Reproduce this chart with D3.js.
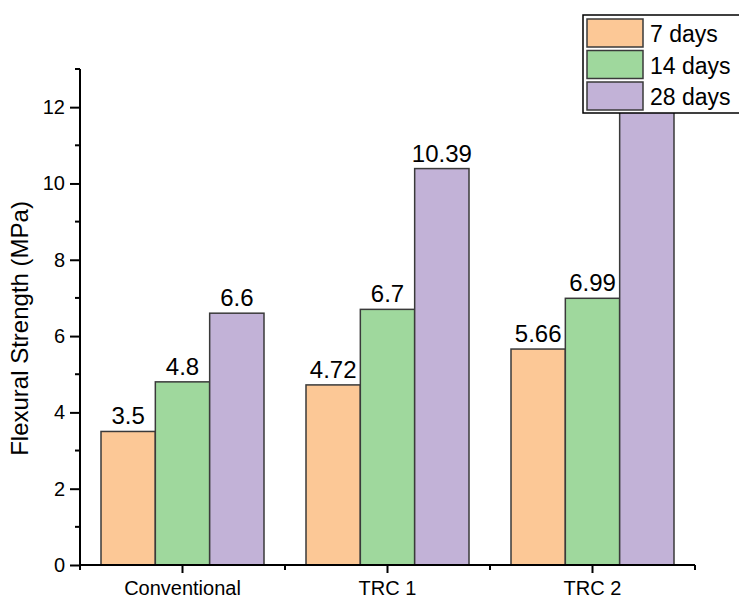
<!DOCTYPE html>
<html>
<head>
<meta charset="utf-8">
<script src="https://cdn.jsdelivr.net/npm/d3@7"></script>
<style>
  body { margin: 0; background: #fff; }
  text { font-family: "Liberation Sans", Arial, sans-serif; fill: #000; }
</style>
</head>
<body>
<div id="chart"></div>
<script>
// data
var categories = ["Conventional", "TRC 1", "TRC 2"];
var series = ["7 days", "14 days", "28 days"];
var days7 = [3.5, 4.72, 5.66];
var days14 = [4.8, 6.7, 6.99];
var days28 = [6.6, 10.39, 12.45]; // last one hidden behind legend, estimated
var seriesValues = [days7, days14, days28];
var yTicks = [0, 2, 4, 6, 8, 10, 12];
var yMinorTicks = [1, 3, 5, 7, 9, 11, 13];

var colors = ["#fcc896", "#9fd89d", "#c2b2d7"];

var svgWidth = 739;
var svgHeight = 599;

var margin = { top: 69, right: 44, bottom: 34, left: 80 };
var chartWidth = svgWidth - margin.left - margin.right;
var chartHeight = svgHeight - margin.top - margin.bottom;

var svg = d3.select("#chart").append("svg")
  .attr("width", svgWidth)
  .attr("height", svgHeight);

var chartGroup = svg.append("g")
  .attr("transform", `translate(${margin.left}, ${margin.top})`);

// scales
var x0 = d3.scaleBand()
  .domain(categories)
  .range([0, chartWidth])
  .padding(0);

var x1 = d3.scaleBand()
  .domain(series)
  .range([21, x0.bandwidth() - 21])
  .padding(0);

var y = d3.scaleLinear()
  .domain([0, 13])
  .range([chartHeight, 0]);

// table for bars
var rows = [];
categories.forEach(function(c, i) {
  series.forEach(function(s, j) {
    rows.push({ cat: c, ser: s, idx: j, value: seriesValues[j][i] });
  });
});

// bars
chartGroup.selectAll("rect.bar")
  .data(rows)
  .enter()
  .append("rect")
  .attr("class", "bar")
  .attr("x", d => x0(d.cat) + x1(d.ser))
  .attr("y", d => y(d.value))
  .attr("width", x1.bandwidth())
  .attr("height", d => chartHeight - y(d.value))
  .attr("fill", d => colors[d.idx])
  .attr("stroke", "#3a3a3a")
  .attr("stroke-width", 1.5);

// value labels
chartGroup.selectAll("text.val")
  .data(rows)
  .enter()
  .append("text")
  .attr("class", "val")
  .attr("x", d => x0(d.cat) + x1(d.ser) + x1.bandwidth() / 2)
  .attr("y", d => y(d.value) - 7)
  .attr("text-anchor", "middle")
  .style("font-size", "24px")
  .text(d => String(d.value));

// y axis
var yAxis = d3.axisLeft(y)
  .tickValues(yTicks)
  .tickSize(10)
  .tickPadding(5)
  .tickFormat(d3.format("d"));

var yAxisG = chartGroup.append("g").call(yAxis);
yAxisG.select(".domain").remove();
yAxisG.selectAll("line").attr("stroke", "#000").attr("stroke-width", 2);
yAxisG.selectAll("text").style("font-size", "20px");

chartGroup.append("g").selectAll("line")
  .data(yMinorTicks)
  .enter()
  .append("line")
  .attr("x1", -5).attr("x2", 0)
  .attr("y1", d => y(d)).attr("y2", d => y(d))
  .attr("stroke", "#000")
  .attr("stroke-width", 2);

chartGroup.append("line")
  .attr("x1", 0).attr("x2", 0)
  .attr("y1", y(13)).attr("y2", chartHeight + 1)
  .attr("stroke", "#000")
  .attr("stroke-width", 2);

// x axis
var xAxis = d3.axisBottom(x0)
  .tickSize(8)
  .tickPadding(8);

var xAxisG = chartGroup.append("g")
  .attr("transform", `translate(0, ${chartHeight})`)
  .call(xAxis);
xAxisG.select(".domain").remove();
xAxisG.selectAll("line").attr("stroke", "#000").attr("stroke-width", 2);
xAxisG.selectAll("text").style("font-size", "20px");

var edges = categories.map(c => x0(c)).concat([chartWidth]);
xAxisG.selectAll("line.minor")
  .data(edges)
  .enter()
  .append("line")
  .attr("class", "minor")
  .attr("x1", d => d).attr("x2", d => d)
  .attr("y1", 0).attr("y2", 5)
  .attr("stroke", "#000")
  .attr("stroke-width", 2);

xAxisG.append("line")
  .attr("x1", -1).attr("x2", chartWidth)
  .attr("y1", 0).attr("y2", 0)
  .attr("stroke", "#000")
  .attr("stroke-width", 2);

// y axis title
chartGroup.append("text")
  .attr("transform", "rotate(-90)")
  .attr("x", 0 - y(6.2))
  .attr("y", 0 - margin.left + 28)
  .attr("text-anchor", "middle")
  .style("font-size", "24px")
  .text("Flexural Strength (MPa)");

// legend
var legend = svg.append("g")
  .attr("transform", "translate(583, 15)");

legend.append("rect")
  .attr("x", 0).attr("y", 0)
  .attr("width", 180).attr("height", 98)
  .attr("fill", "#fff")
  .attr("stroke", "#000")
  .attr("stroke-width", 1.5);

var items = legend.selectAll("g.item")
  .data(series)
  .enter()
  .append("g")
  .attr("class", "item")
  .attr("transform", (d, i) => `translate(4, ${4 + i * 31.5})`);

items.append("rect")
  .attr("width", 56).attr("height", 28)
  .attr("fill", (d, i) => colors[i])
  .attr("stroke", "#3a3a3a")
  .attr("stroke-width", 1.5);

items.append("text")
  .attr("x", 63)
  .attr("y", 23)
  .style("font-size", "23px")
  .text(d => d);
</script>
</body>
</html>
